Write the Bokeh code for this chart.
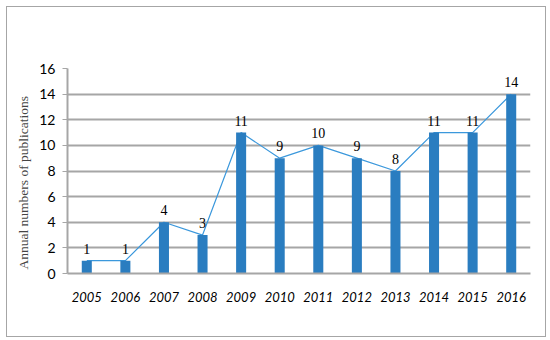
from bokeh.plotting import figure
from bokeh.models import ColumnDataSource, FactorRange, Range1d, LabelSet, FixedTicker
from bokeh.embed import file_html
from bokeh.resources import INLINE

years = ["2005", "2006", "2007", "2008", "2009", "2010", "2011", "2012", "2013", "2014", "2015", "2016"]
counts = [1, 1, 4, 3, 11, 9, 10, 9, 8, 11, 11, 14]
y_ticks = [0, 2, 4, 6, 8, 10, 12, 14, 16]
y_title = "Annual numbers of publications"

src = ColumnDataSource(dict(x=years, y=counts, lab=[str(c) for c in counts]))

p = figure(x_range=FactorRange(factors=years, range_padding=0),
           y_range=Range1d(0, 16),
           width=538, height=329, frame_width=463, frame_height=205,
           min_border_left=60, min_border_right=15, min_border_top=61, min_border_bottom=63,
           output_backend="svg", toolbar_location=None)
p.styles = {"border": "1px solid #a6a6a6", "margin-left": "6px", "margin-top": "6px"}
p.outline_line_color = None

p.line(x="x", y="y", source=src, line_color="#3b98dc", line_width=1.2)
p.vbar(x="x", top="y", width=0.26, source=src, fill_color="#2a7dc0", line_color=None)

labels = LabelSet(x="x", y="y", text="lab", source=src, text_align="center",
                  text_baseline="alphabetic", y_offset=7, text_font="Lato",
                  text_font_size="14px", text_color="#000000")
p.add_layout(labels)

p.yaxis.ticker = FixedTicker(ticks=y_ticks)
p.yaxis.axis_label = y_title + "\u00a0" * 7
p.yaxis.axis_label_text_font = "Liberation Serif"
p.yaxis.axis_label_text_font_style = "normal"
p.yaxis.axis_label_text_font_size = "13.5px"
p.yaxis.axis_label_standoff = 5
p.yaxis.major_label_text_font = "Lato"
p.yaxis.major_label_text_font_size = "14px"
p.yaxis.major_label_text_color = "#000000"
p.yaxis.axis_line_color = "#a6a6a6"
p.yaxis.axis_line_width = 2
p.yaxis.major_tick_line_color = "#a6a6a6"
p.yaxis.major_tick_in = 0
p.yaxis.major_tick_out = 5
p.yaxis.minor_tick_line_color = None
p.yaxis.major_label_standoff = 7

p.xaxis.axis_line_color = "#a6a6a6"
p.xaxis.axis_line_width = 2
p.xaxis.major_tick_line_color = None
p.xaxis.minor_tick_line_color = None
p.xaxis.major_label_text_font = "Lato"
p.xaxis.major_label_text_font_style = "italic"
p.xaxis.major_label_text_font_size = "13px"
p.xaxis.major_label_text_color = "#000000"
p.xaxis.major_label_standoff = 12

p.xgrid.grid_line_color = None
p.ygrid.grid_line_color = "#a6a6a6"
p.ygrid.grid_line_width = 2

open("out.html", "w").write(file_html(p, INLINE))
